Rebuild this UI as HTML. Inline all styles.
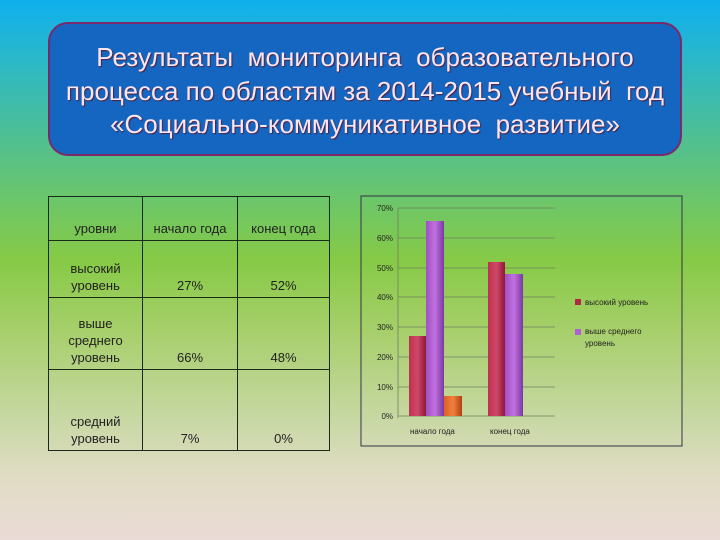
<!DOCTYPE html>
<html><head><meta charset="utf-8"><style>
body{margin:0;width:720px;height:540px;overflow:hidden;position:relative;font-family:"Liberation Sans",sans-serif;
background:linear-gradient(180deg,#0eb0ee 0px,#2bb8c8 60px,#55c08a 150px,#6cc66a 200px,#86ca46 260px,#a6cf6a 330px,#c8d8a4 420px,#e2dcc6 480px,#eadbd6 540px);}
.title{position:absolute;left:48px;top:22px;width:634px;height:134px;border:2px solid #7a2a6a;border-radius:20px;background:#1466c0;
color:#fbe6f0;font-family:"Liberation Sans",sans-serif;font-size:26px;line-height:33.5px;text-align:center;padding-top:17px;box-sizing:border-box;text-shadow:1px 1px 1px #502040;white-space:nowrap;}
table{position:absolute;left:48px;top:196px;width:282px;height:255px;border-collapse:collapse;font-size:13px;color:#222;}
td{border:1px solid #1a2a1a;text-align:center;vertical-align:bottom;padding:0 0 3px 0;line-height:17px;}
</style></head><body>
<div class="title">Результаты&nbsp; мониторинга&nbsp; образовательного<br>процесса по областям за 2014-2015 учебный&nbsp; год<br>«Социально-коммуникативное&nbsp; развитие»</div>
<table>
<tr style="height:44px"><td style="width:93px">уровни</td><td style="width:94px">начало года</td><td>конец года</td></tr>
<tr style="height:57px"><td>высокий<br>уровень</td><td>27%</td><td>52%</td></tr>
<tr style="height:72px"><td>выше<br>среднего<br>уровень</td><td>66%</td><td>48%</td></tr>
<tr><td>средний<br>уровень</td><td>7%</td><td>0%</td></tr>
</table>
<svg style="position:absolute;left:0;top:0" width="720" height="540">
<defs>
<linearGradient id="r" x1="0" x2="1"><stop offset="0" stop-color="#c03050"/><stop offset="0.5" stop-color="#d04868"/><stop offset="1" stop-color="#901838"/></linearGradient>
<linearGradient id="p" x1="0" x2="1"><stop offset="0" stop-color="#a050c0"/><stop offset="0.5" stop-color="#c070e0"/><stop offset="1" stop-color="#7a3aa0"/></linearGradient>
<linearGradient id="o" x1="0" x2="1"><stop offset="0" stop-color="#e06020"/><stop offset="0.5" stop-color="#f08040"/><stop offset="1" stop-color="#b04010"/></linearGradient>
</defs>
<rect x="361" y="196" width="321" height="250" fill="none" stroke="#334" stroke-width="1"/>
<g stroke="#708060" stroke-width="0.8">
<line x1="398" y1="208" x2="555" y2="208"/><line x1="398" y1="238" x2="555" y2="238"/><line x1="398" y1="268" x2="555" y2="268"/>
<line x1="398" y1="297" x2="555" y2="297"/><line x1="398" y1="327" x2="555" y2="327"/><line x1="398" y1="357" x2="555" y2="357"/>
<line x1="398" y1="387" x2="555" y2="387"/><line x1="398" y1="416" x2="555" y2="416"/>
<line x1="398" y1="208" x2="398" y2="418"/>
</g>
<g font-size="8" fill="#222" text-anchor="end" font-family="Liberation Sans">
<text x="393" y="211">70%</text><text x="393" y="241">60%</text><text x="393" y="271">50%</text><text x="393" y="300">40%</text>
<text x="393" y="330">30%</text><text x="393" y="360">20%</text><text x="393" y="390">10%</text><text x="393" y="419">0%</text>
</g>
<rect x="409" y="336" width="17" height="80" fill="url(#r)"/>
<rect x="426" y="221" width="18" height="195" fill="url(#p)"/>
<rect x="444" y="396" width="18" height="20" fill="url(#o)"/>
<rect x="488" y="262" width="17" height="154" fill="url(#r)"/>
<rect x="505" y="274" width="18" height="142" fill="url(#p)"/>
<g font-size="8" fill="#222" font-family="Liberation Sans">
<text x="410" y="434">начало года</text><text x="490" y="434">конец года</text>
<rect x="575" y="299" width="6" height="6" fill="#b02848"/><text x="585" y="305">высокий уровень</text>
<rect x="575" y="329" width="6" height="6" fill="#b060d0"/><text x="585" y="334">выше среднего</text><text x="585" y="346">уровень</text>
</g>
</svg>
</body></html>
